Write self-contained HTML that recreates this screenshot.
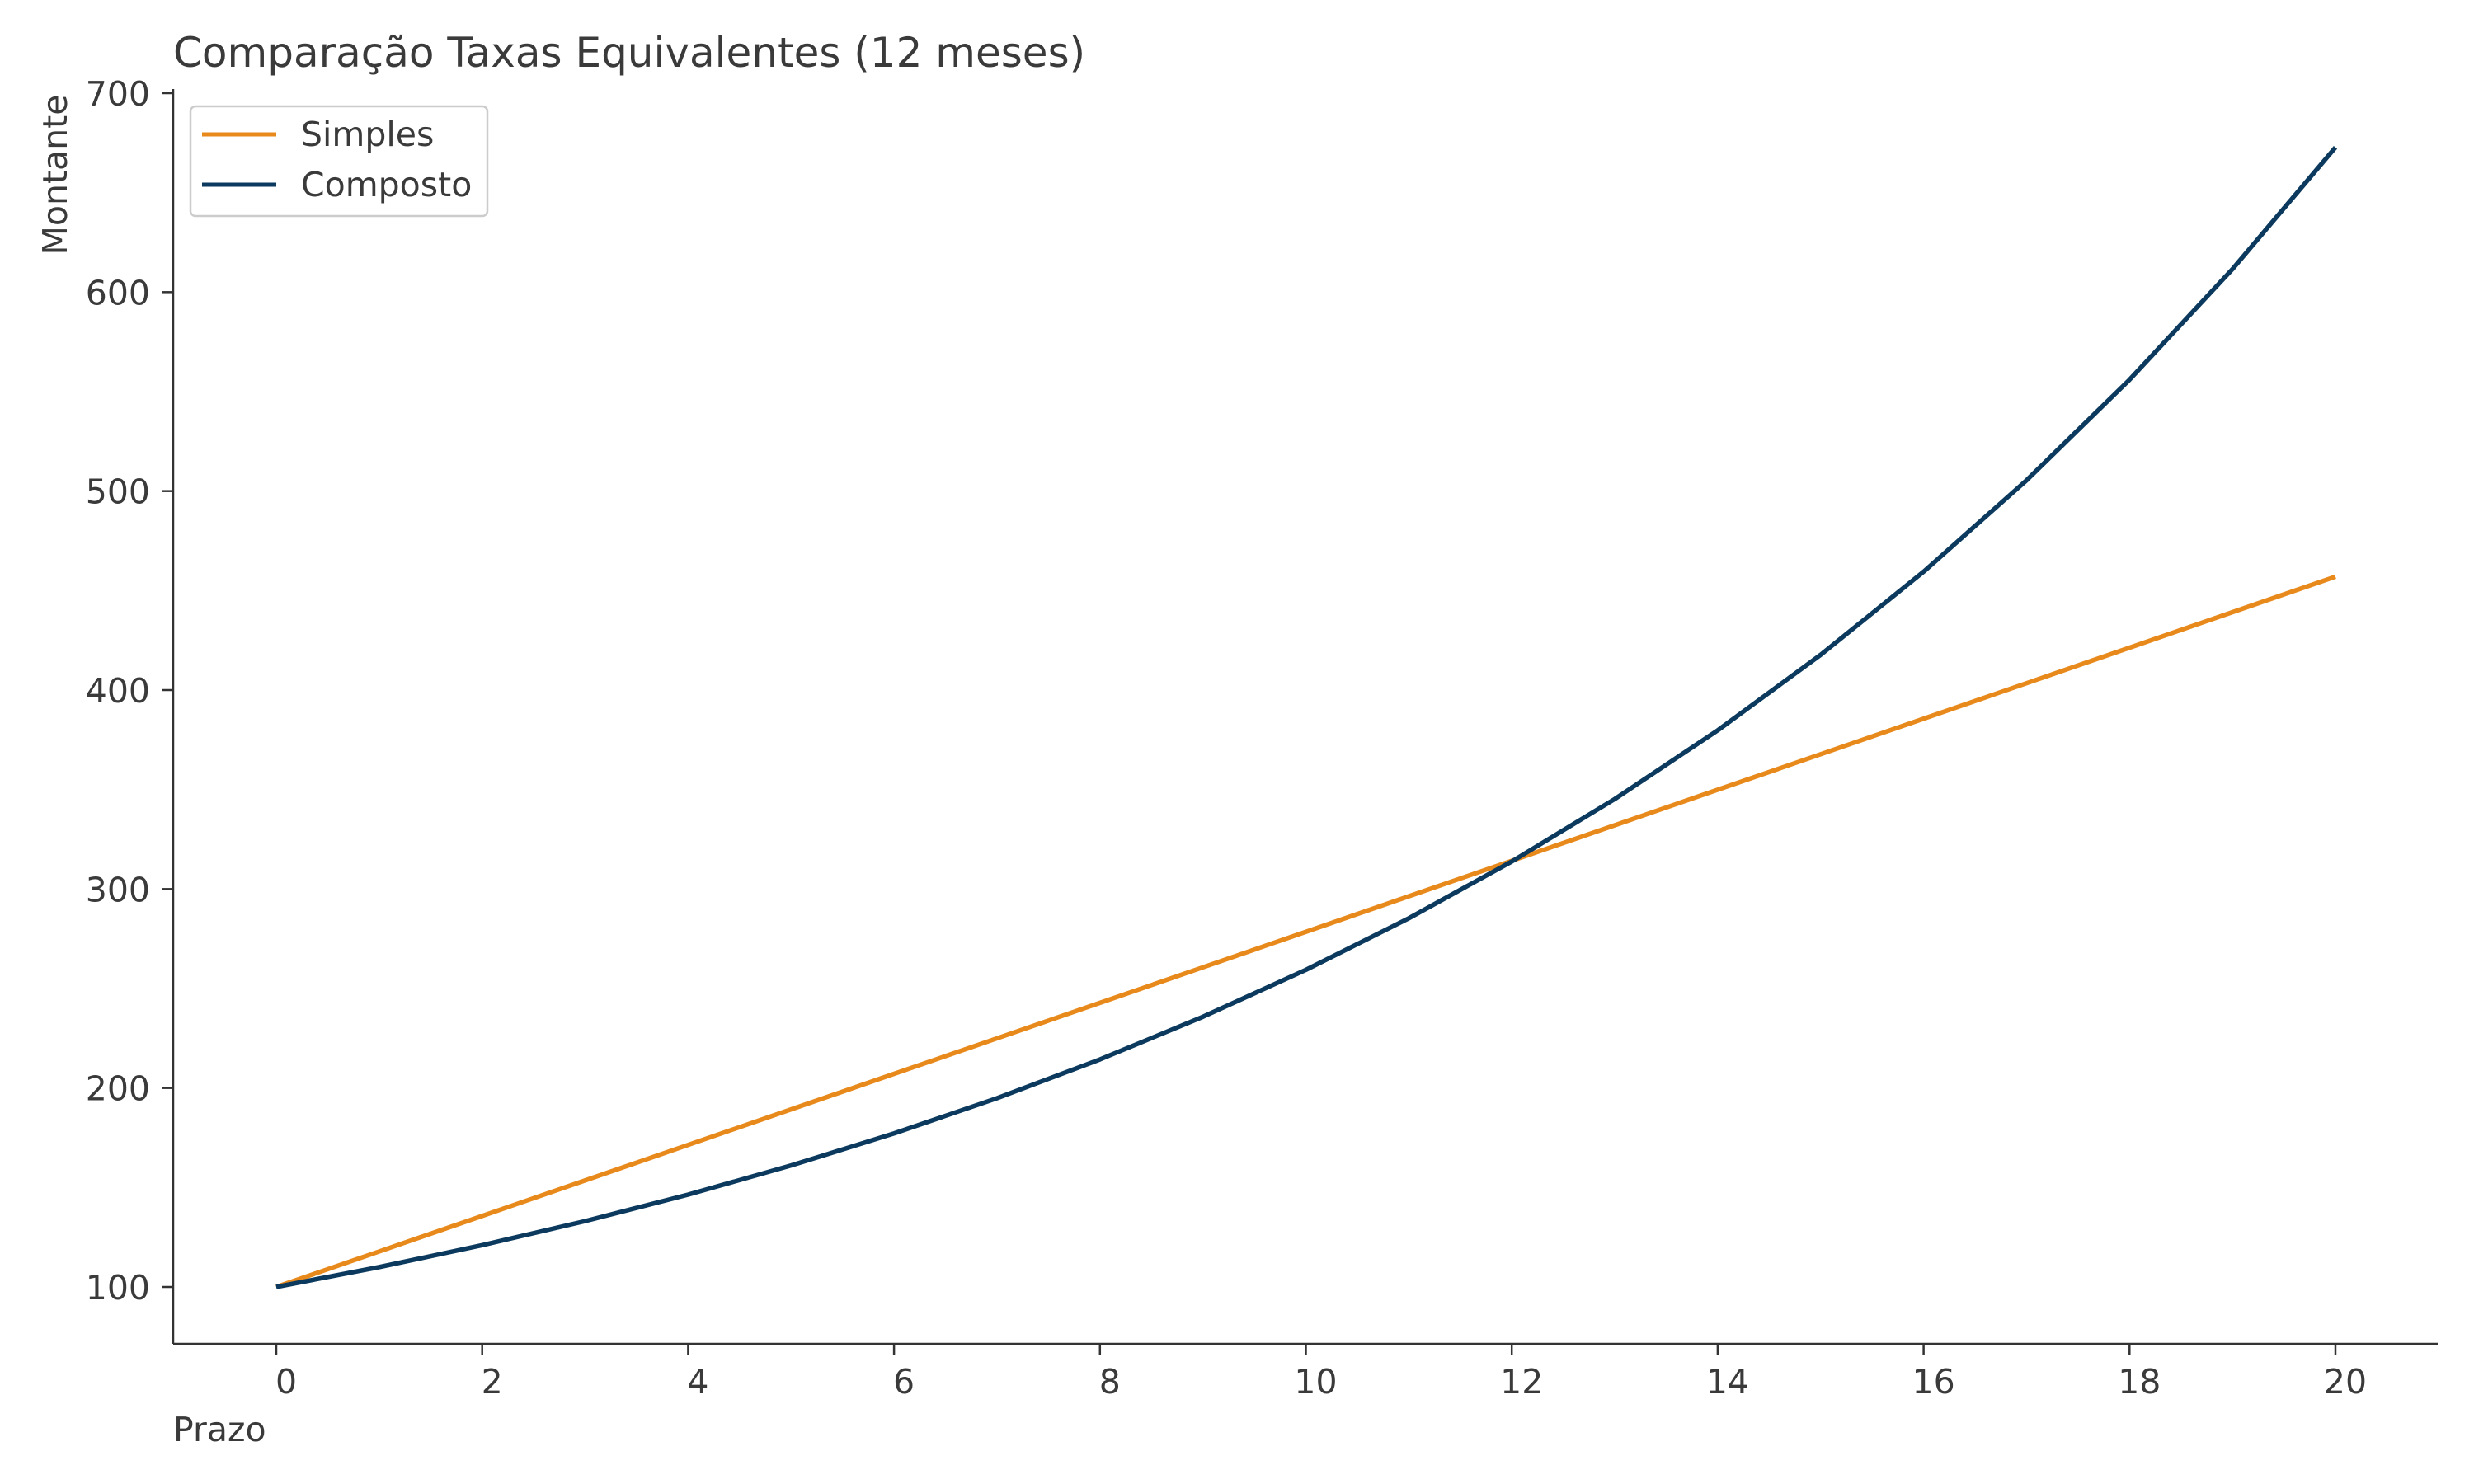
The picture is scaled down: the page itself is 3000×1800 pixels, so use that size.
<!DOCTYPE html>
<html><head><meta charset="utf-8"><style>
html,body{margin:0;padding:0;background:#fff;}
svg{display:block;font-family:"DejaVu Sans","Liberation Sans",sans-serif;}
</style></head><body>
<svg id="chart" width="3000" height="1800" viewBox="0 0 3000 1800" xmlns="http://www.w3.org/2000/svg">
<rect width="3000" height="1800" fill="#fff"/>
<text x="210" y="81" font-size="50" fill="#3a3a3a">Comparação Taxas Equivalentes (12 meses)</text>
<g id="axes"></g>
<g id="series"></g>
<g>
<rect x="231" y="129" width="360" height="133" rx="6" fill="#fff" stroke="#cccccc" stroke-width="2.5"/>
<line x1="245" y1="163" x2="335" y2="163" stroke="#E8891C" stroke-width="5"/>
<text x="365" y="177" font-size="41" fill="#3a3a3a">Simples</text>
<line x1="245" y1="224" x2="335" y2="224" stroke="#0B3A5E" stroke-width="5"/>
<text x="365" y="238" font-size="41" fill="#3a3a3a">Composto</text>
</g>
<text x="210" y="1748" font-size="41" fill="#3a3a3a">Prazo</text>
<text transform="translate(81,212) rotate(-90)" text-anchor="middle" font-size="41" fill="#3a3a3a">Montante</text>
</svg>
<script>
const prazo = [0,1,2,3,4,5,6,7,8,9,10,11,12,13,14,15,16,17,18,19,20];
const simples = [100,117.85,135.7,153.55,171.4,189.25,207.1,224.95,242.8,260.65,278.5,296.35,314.2,332.05,349.9,367.75,385.6,403.45,421.3,439.15,457];
const composto = [100,110,121,133.1,146.41,161.05,177.16,194.87,214.36,235.79,259.37,285.31,313.84,345.23,379.75,417.72,459.5,505.45,555.99,611.59,672.75];
const xTicks = [0,2,4,6,8,10,12,14,16,18,20];
const yTicks = [100,200,300,400,500,600,700];

const NS="http://www.w3.org/2000/svg";
const X0=335,X1=2832,Y0=1561,Y1=113;
const xs=v=>X0+(v-0)*(X1-X0)/20;
const ys=v=>Y0-(v-100)*(Y0-Y1)/600;
function mk(tag,attrs,parent){const e=document.createElementNS(NS,tag);for(const k in attrs)e.setAttribute(k,attrs[k]);parent.appendChild(e);return e;}
const ax=document.getElementById('axes');
const sp1=mk('line',{x1:210,y1:1630,x2:2956,y2:1630,stroke:'#333',"stroke-width":2.5},ax);


const sp2=mk('line',{x1:210,y1:1630,x2:210,y2:108,stroke:'#333',"stroke-width":2.5},ax);


xTicks.forEach(t=>{
  const tk=mk('line',{x1:xs(t),y1:1630,x2:xs(t),y2:1643,stroke:'#333',"stroke-width":2.5},ax);
  
  
  const lb=mk('text',{x:xs(t)+12,y:1690,"text-anchor":"middle","font-size":41,fill:'#3a3a3a'},ax);
  lb.textContent=t;
  
  
});
yTicks.forEach(t=>{
  const tk=mk('line',{x1:197,y1:ys(t),x2:210,y2:ys(t),stroke:'#333',"stroke-width":2.5},ax);
  
  
  const lb=mk('text',{x:182,y:ys(t)+15,"text-anchor":"end","font-size":41,fill:'#3a3a3a'},ax);
  lb.textContent=t;
  
  
});
const sg=document.getElementById('series');
const l1=mk('polyline',{points:prazo.map((p,i)=>xs(p)+','+ys(simples[i])).join(' '),fill:'none',stroke:'#E8891C',"stroke-width":5.5,"stroke-linejoin":"round"},sg);


const l2=mk('polyline',{points:prazo.map((p,i)=>xs(p)+','+ys(composto[i])).join(' '),fill:'none',stroke:'#0B3A5E',"stroke-width":5.5,"stroke-linejoin":"round"},sg);


</script>
</body></html>
